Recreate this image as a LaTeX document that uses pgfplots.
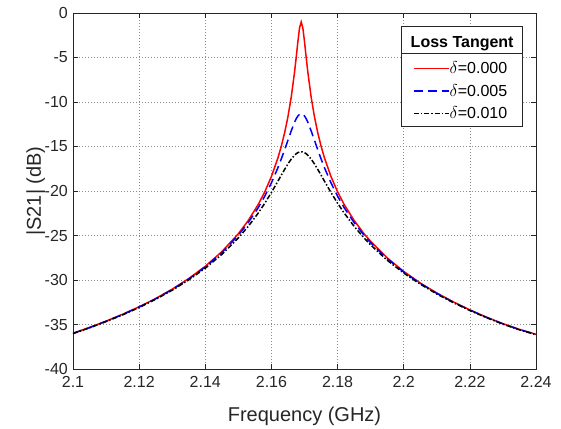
\documentclass[border=0pt]{standalone}
\usepackage{fontspec}
\setmainfont{Liberation Sans}
\usepackage{pgfplots}
\usepackage{pgfplotstable}
\pgfplotsset{compat=1.18}
\usetikzlibrary{calc}

\pgfplotstableread{
f      red     blue    black
2.100  -35.98  -36.00  -36.02
2.105  -35.33  -35.35  -35.38
2.110  -34.62  -34.64  -34.67
2.115  -33.85  -33.88  -33.92
2.120  -33.01  -33.04  -33.09
2.125  -32.08  -32.11  -32.17
2.130  -31.03  -31.07  -31.15
2.135  -29.84  -29.89  -29.99
2.140  -28.46  -28.54  -28.67
2.145  -26.82  -26.93  -27.13
2.150  -24.80  -24.97  -25.27
2.153  -23.31  -23.55  -23.97
2.156  -21.52  -21.88  -22.48
2.158  -20.09  -20.58  -21.37
2.160  -18.37  -19.08  -20.16
2.162  -16.24  -17.35  -18.87
2.163  -14.95  -16.38  -18.21
2.164  -13.44  -15.36  -17.57
2.165  -11.64  -14.29  -16.95
2.166  -9.42   -13.23  -16.41
2.167  -6.62   -12.27  -15.98
2.1675 -4.96   -11.87  -15.81
2.168  -3.21   -11.57  -15.69
2.1685 -1.67   -11.38  -15.62
2.169  -1.00   -11.31  -15.59
2.1695 -1.67   -11.38  -15.62
2.170  -3.21   -11.57  -15.69
2.1705 -4.96   -11.87  -15.81
2.171  -6.62   -12.27  -15.98
2.172  -9.42   -13.23  -16.41
2.173  -11.64  -14.29  -16.95
2.174  -13.44  -15.36  -17.57
2.175  -14.95  -16.38  -18.21
2.176  -16.24  -17.35  -18.87
2.178  -18.37  -19.08  -20.16
2.180  -20.09  -20.58  -21.37
2.182  -21.52  -21.88  -22.48
2.185  -23.31  -23.55  -23.97
2.188  -24.80  -24.97  -25.27
2.190  -25.66  -25.81  -26.06
2.195  -27.51  -27.61  -27.78
2.200  -29.04  -29.10  -29.22
2.205  -30.34  -30.38  -30.47
2.210  -31.46  -31.50  -31.57
2.215  -32.46  -32.49  -32.55
2.220  -33.36  -33.38  -33.43
2.225  -34.17  -34.19  -34.23
2.230  -34.91  -34.93  -34.96
2.235  -35.55  -35.57  -35.60
2.240  -36.10  -36.12  -36.15
}\datatable

\begin{document}
\begin{tikzpicture}
\begin{axis}[
  scale only axis,
  width=463bp, height=356bp,
  xmin=2.1, xmax=2.24, ymin=-40, ymax=0,
  xtick={2.1,2.12,2.14,2.16,2.18,2.2,2.22,2.24},
  xticklabels={2.1,2.12,2.14,2.16,2.18,2.2,2.22,2.24},
  ytick={-40,-35,-30,-25,-20,-15,-10,-5,0},
  yticklabels={-40,-35,-30,-25,-20,-15,-10,-5,0},
  tick align=inside,
  major tick length=5bp,
  axis line style={black!85, line width=0.7bp},
  every tick/.style={black!85, line width=0.7bp},
  grid=major,
  major grid style={black!45, line width=0.6bp, dash pattern=on 1bp off 2bp},
  ticklabel style={font=\fontsize{16bp}{19bp}\selectfont, text=black!85},
  xticklabel style={anchor=base, yshift=-18.3bp},
  yticklabel style={anchor=east, inner sep=0pt, xshift=-5bp},
  xlabel={Frequency (GHz)},
  ylabel={|S21| (dB)},
  label style={font=\fontsize{20bp}{24bp}\selectfont, text=black!85},
  xlabel style={at={(rel axis cs:0.5,0)}, anchor=base, yshift=-52bp},
  ylabel style={at={(rel axis cs:0,0.5)}, anchor=base, yshift=32bp},
  legend image code/.code={\draw[#1, line width=1.5bp] (0bp,0bp) -- (32bp,0bp); \path (0bp,0bp) -- (35bp,0bp);},
  legend style={at={(rel axis cs:0.7095,0.8868)}, anchor=north west,
    draw=none, fill=none, inner xsep=11.5bp, inner ysep=7bp,
    row sep=6bp,
    font=\fontsize{16bp}{19bp}\selectfont,
    nodes={inner xsep=0bp, inner ysep=1.5bp}},
  legend cell align=left,
  clip=false,
]
\draw[black!85, fill=white, line width=0.7bp] (rel axis cs:0.7095,0.6826) rectangle (rel axis cs:0.9715,0.9615);
\draw[black!85, line width=0.7bp] (rel axis cs:0.7095,0.8868) -- (rel axis cs:0.9715,0.8868);
\node[anchor=base, font=\fontsize{16bp}{19bp}\selectfont\bfseries, inner sep=0pt] at (rel axis cs:0.8405,0.9037) {Loss Tangent};
\addplot[red, line width=1.5bp] table[x=f, y=red] {\datatable};
\addlegendentry{$\delta$=0.000}
\addplot[blue, line width=1.5bp, dash pattern=on 9bp off 5bp] table[x=f, y=blue] {\datatable};
\addlegendentry{$\delta$=0.005}
\addplot[black, line width=1.5bp, dash pattern=on 5bp off 2bp on 1.5bp off 2bp] table[x=f, y=black] {\datatable};
\addlegendentry{$\delta$=0.010}
\coordinate (bl) at (rel axis cs:0,0);
\coordinate (tr) at (rel axis cs:1,1);
\end{axis}
\path ($(bl)+(-73bp,-60bp)$) rectangle ($(tr)+(25bp,13bp)$);
\end{tikzpicture}
\end{document}
